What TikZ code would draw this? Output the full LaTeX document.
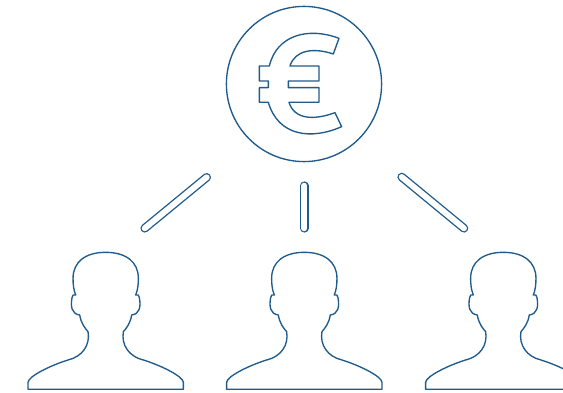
\documentclass[tikz,border=0pt]{standalone}
\definecolor{ink}{HTML}{1F5C8C}
\tikzset{
  outline/.style={draw=ink,line width=1.35pt,line join=round,fill=white},
  barouter/.style={draw=ink,line width=8.6pt,line cap=round},
  barinner/.style={draw=white,line width=5.9pt,line cap=round},
  person/.pic={
    \draw[outline,x=0.3333pt,y=-0.3333pt]
      (0,22) .. controls (60,22) and (98,50) .. (98,100)
      .. controls (98,120) and (96,135) .. (90,150)
      .. controls (96,148) and (101,150) .. (101,158)
      .. controls (106,185) and (102,207) .. (78,210)
      .. controls (74,235) and (62,250) .. (53,260)
      .. controls (46,300) and (70,335) .. (113,345)
      .. controls (168,362) and (233,395) .. (233,412)
      -- (233,433) -- (-233,433) -- (-233,412)
      .. controls (-233,395) and (-168,362) .. (-113,345)
      .. controls (-70,335) and (-46,300) .. (-53,260)
      .. controls (-62,250) and (-74,235) .. (-78,210)
      .. controls (-102,207) and (-106,185) .. (-101,158)
      .. controls (-101,150) and (-96,148) .. (-90,150)
      .. controls (-96,135) and (-98,120) .. (-98,100)
      .. controls (-98,50) and (-60,22) .. (0,22) -- cycle;
  }
}
\begin{document}
\begin{tikzpicture}[x=1pt,y=-1pt]
\useasboundingbox (0,0) rectangle (563,393);
\begin{scope}
\clip (0,0) rectangle (563,393);
% coin
\draw[outline] (304,84) circle[radius=77.6pt];
% euro sign
\begin{scope}[shift={(215,0)},x=0.3333pt,y=-0.3333pt]
\draw[outline]
  (372,115) -- (355,162)
  .. controls (295,142) and (240,150) .. (225,198)
  -- (312,198) -- (312,243) -- (220,243) -- (220,263) -- (312,263) -- (312,307) -- (222,307)
  .. controls (238,358) and (295,362) .. (360,338)
  -- (380,380)
  .. controls (290,420) and (190,410) .. (160,307)
  -- (133,307) -- (133,263) -- (160,263) -- (160,243) -- (133,243) -- (133,198) -- (163,198)
  .. controls (185,105) and (280,80) .. (372,115) -- cycle;
\end{scope}
% bars
\coordinate (a1) at (144.7,228.3); \coordinate (a2) at (206.7,177.3);
\coordinate (b1) at (304.3,228.3); \coordinate (b2) at (304.3,185.7);
\coordinate (c1) at (401.7,177);   \coordinate (c2) at (464,228.3);
\foreach \p/\q in {a1/a2,b1/b2,c1/c2}{
  \draw[barouter] (\p) -- (\q);
  \draw[barinner] (\p) -- (\q);
}
% people
\pic at (105.7,245) {person};
\pic at (304.3,245) {person};
\pic at (503.3,245) {person};
\end{scope}
\end{tikzpicture}
\end{document}
